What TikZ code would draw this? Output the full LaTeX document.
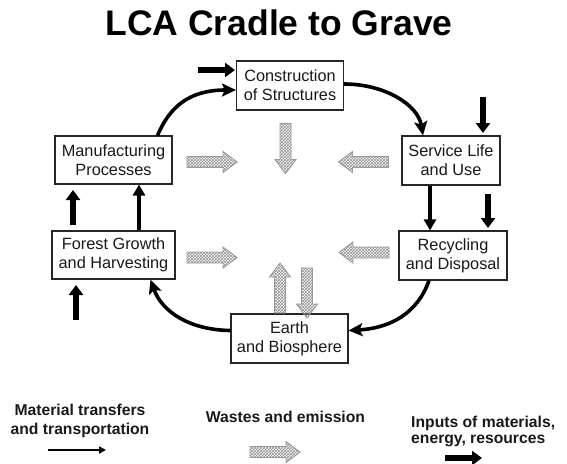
\documentclass[tikz,border=0pt]{standalone}
\usepackage{fontspec}
\setmainfont{Liberation Sans}
\usetikzlibrary{arrows.meta,patterns,calc}

\begin{document}
\begin{tikzpicture}[x=1pt,y=-1pt,
  box/.style={draw=black!85, line width=1.1pt, fill=white, align=center, inner sep=0pt,
    font=\fontsize{16.3}{19}\selectfont, text=black!90},
  flow/.style={line width=3.6pt, -{Stealth[length=14pt,width=13pt,inset=3pt]}},
  feed/.style={line width=3.2pt, -{Triangle[length=11pt,width=12pt]}},
  input/.style={line width=5.8pt, -{Triangle[length=10pt,width=14pt]}},
  waste/.style={draw=gray!80, line width=0.9pt, pattern=crosshatch, pattern color=gray!90},
  wastearrow/.pic={\path[waste] (-25,-5.5) -- (11,-5.5) -- (11,-10.5) -- (25,0)
    -- (11,10.5) -- (11,5.5) -- (-25,5.5) -- cycle;},
  legend/.style={font=\bfseries\fontsize{15.7}{19}\selectfont, inner sep=0pt, text=black!90}
]
\useasboundingbox (0,0) rectangle (567,463);

% title
\node[font=\bfseries\fontsize{35.5}{40}\selectfont, inner sep=0pt, anchor=base] (title) at (279,35) {LCA Cradle to Grave};

% life-cycle stages
\node[box, minimum width=107pt, minimum height=49pt] (cons)  at (290,85.5)  {Construction\\of Structures};
\node[box, minimum width=98pt,  minimum height=49pt] (serv)  at (451,160.5) {Service Life\\and Use};
\node[box, minimum width=108pt, minimum height=49pt] (recy)  at (453,255.5) {Recycling\\and Disposal};
\node[box, minimum width=117pt, minimum height=48pt] (manu)  at (113.5,160) {Manufacturing\\Processes};
\node[box, minimum width=123pt, minimum height=48pt] (fore)  at (113.5,255) {Forest Growth\\and Harvesting};
\node[box, minimum width=117pt, minimum height=49pt] (earth) at (289.5,338.5) {Earth\\and Biosphere};

% material transfers around the cycle
\draw[flow] ([xshift=44pt]manu.north) .. controls (170,106) and (190,90) .. ($(cons.west)+(0,4.5)$);
\draw[flow] ($(cons.east)+(0,-1.5)$) .. controls (385,84) and (418,105) .. ([xshift=-28pt]serv.north);
\draw[feed] ([xshift=-21pt]serv.south) -- ([xshift=-23pt]recy.north);
\draw[flow] ([xshift=-24pt]recy.south) .. controls (418,312) and (392,328) .. ($(earth.east)+(0,-8)$);
\draw[flow] ($(earth.west)+(0,-8)$) .. controls (190,330) and (162,312) .. ([xshift=37pt]fore.south);
\draw[feed] ([xshift=25.5pt]fore.north) -- ([xshift=25.5pt]manu.south);

% inputs of materials, energy, resources
\coordinate (in1a) at (198,70);  \coordinate (in1b) at (235,70);
\coordinate (in2a) at (483,97);  \coordinate (in2b) at (483,133);
\coordinate (in3a) at (488,194); \coordinate (in3b) at (488,228);
\coordinate (in4a) at (73,225);  \coordinate (in4b) at (73,190);
\coordinate (in5a) at (76,320);  \coordinate (in5b) at (76,285);
\foreach \s in {1,...,5} \draw[input] (in\s a) -- (in\s b);

% wastes and emissions
\pic at (212,162) {wastearrow};
\pic[rotate=180] at (363.5,162) {wastearrow};
\pic[rotate=-90] at (285.5,148.5) {wastearrow};
\pic at (212,257.5) {wastearrow};
\pic[rotate=180] at (364,252.5) {wastearrow};
\pic[rotate=90] at (280,288) {wastearrow};
\pic[rotate=-90] at (307,293) {wastearrow};

% legend
\node[legend, align=center, anchor=north] (lg1) at (80,403.5) {Material transfers\\and transportation};
\coordinate (lt1) at (48,450); \coordinate (lt2) at (106,450);
\draw[line width=1.6pt, -{Triangle[length=7pt,width=7pt]}] (lt1) -- (lt2);

\node[legend, anchor=base] (lg2) at (285.5,422) {Wastes and emission};
\pic at (275,452) {wastearrow};

\node[legend, align=left, anchor=north west, font=\bfseries\fontsize{15.7}{16}\selectfont] (lg3) at (411,415.5) {Inputs of materials,\\energy, resources};
\coordinate (li1) at (445,458); \coordinate (li2) at (482,458);
\draw[input] (li1) -- (li2);
\end{tikzpicture}
\end{document}
